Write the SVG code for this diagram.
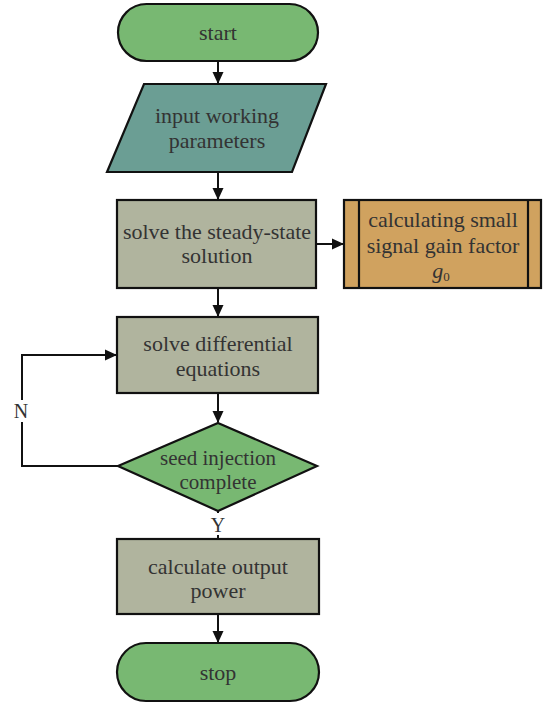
<svg xmlns="http://www.w3.org/2000/svg" width="543" height="704" viewBox="0 0 543 704">
<defs>
<marker id="ah" markerWidth="12" markerHeight="12" refX="11" refY="6" orient="auto" markerUnits="userSpaceOnUse">
<path d="M0,0.5 L12,6 L0,11.5 Z" fill="#111"/>
</marker>
<style>
.t{font-family:"Liberation Serif","DejaVu Serif",serif;font-size:22px;fill:#333;text-anchor:middle}
.d{font-size:21px}
.s{stroke:#111;stroke-width:2.2}
.c{fill:none;stroke:#111;stroke-width:2}
.lb{font-family:"Liberation Serif","DejaVu Serif",serif;font-size:20px;fill:#333;text-anchor:middle}
</style>
</defs>
<rect width="543" height="704" fill="#fff"/>
<g id="connectors">
<line class="c" x1="218" y1="62" x2="218" y2="83" marker-end="url(#ah)"/>
<line class="c" x1="218" y1="172" x2="218" y2="199" marker-end="url(#ah)"/>
<line class="c" x1="317" y1="244" x2="343" y2="244" marker-end="url(#ah)"/>
<line class="c" x1="218" y1="289" x2="218" y2="316" marker-end="url(#ah)"/>
<line class="c" x1="218" y1="394" x2="218" y2="422" marker-end="url(#ah)"/>
<polyline class="c" points="118,466 22,466 22,422"/>
<polyline class="c" points="22,400 22,355 116,355" marker-end="url(#ah)"/>
<text class="lb" x="21" y="418">N</text>
<line class="c" x1="218" y1="511" x2="218" y2="539"/>
<rect x="209" y="513" width="18" height="22" fill="#fff"/>
<text class="lb" x="218" y="532">Y</text>
<line class="c" x1="218" y1="615" x2="218" y2="642" marker-end="url(#ah)"/>
</g>
<g id="start">
<rect class="s" x="118" y="4" width="200" height="57" rx="28.5" fill="#78b872"/>
<text class="t" x="218" y="40">start</text>
</g>
<g id="input">
<polygon class="s" points="144,84 326,84 292,172 107,172" fill="#6b9e94"/>
<text class="t" x="217" y="123">input working</text>
<text class="t" x="217" y="148">parameters</text>
</g>
<g id="steady">
<rect class="s" x="117" y="200" width="199" height="88" fill="#b0b49e"/>
<text class="t" x="217" y="239">solve the steady-state</text>
<text class="t" x="217" y="263">solution</text>
</g>
<g id="gain">
<rect class="s" x="344" y="200" width="197" height="88" fill="#d0a25f"/>
<line class="s" x1="359" y1="200" x2="359" y2="288"/>
<line class="s" x1="528" y1="200" x2="528" y2="288"/>
<text class="t" x="443" y="227">calculating small</text>
<text class="t" x="443" y="253">signal gain factor</text>
<text class="t" x="441" y="278" font-style="italic">g<tspan font-size="13" font-style="normal" dy="3">0</tspan></text>
</g>
<g id="diff">
<rect class="s" x="117" y="317" width="201" height="76" fill="#b0b49e"/>
<text class="t" x="218" y="351">solve differential</text>
<text class="t" x="218" y="376">equations</text>
</g>
<g id="seed">
<polygon class="s" points="218,423 317,466 218,511 118,466" fill="#78b872"/>
<text class="t d" x="218" y="465">seed injection</text>
<text class="t d" x="218" y="489">complete</text>
</g>
<g id="output">
<rect class="s" x="117" y="539" width="202" height="75" fill="#b0b49e"/>
<text class="t" x="218" y="574">calculate output</text>
<text class="t" x="218" y="598">power</text>
</g>
<g id="stop">
<rect class="s" x="117" y="643" width="202" height="58" rx="29" fill="#78b872"/>
<text class="t" x="218" y="680">stop</text>
</g>
</svg>
